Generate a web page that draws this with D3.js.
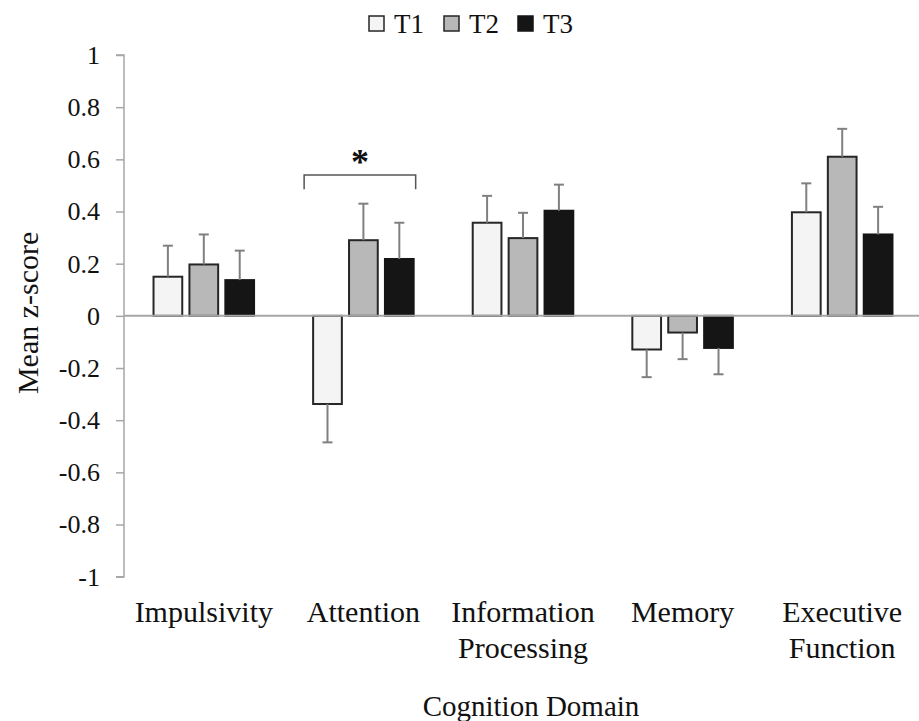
<!DOCTYPE html>
<html>
<head>
<meta charset="utf-8">
<script src="https://cdn.jsdelivr.net/npm/d3@7"></script>
<style>
  body { margin: 0; background: #fff; }
  svg text { font-family: "Liberation Serif", "Times New Roman", serif; fill: #111; }
</style>
</head>
<body>
<div id="chart"></div>
<script>
// Values
const categories = ['Impulsivity', 'Attention', 'Information Processing', 'Memory', 'Executive Function'];
const categoryLines = [['Impulsivity'], ['Attention'], ['Information', 'Processing'], ['Memory'], ['Executive', 'Function']];
const series = ['T1', 'T2', 'T3'];
const means = {
  T1: [0.15, -0.338, 0.357, -0.129, 0.397],
  T2: [0.197, 0.29, 0.298, -0.064, 0.61],
  T3: [0.137, 0.218, 0.403, -0.123, 0.312]
};
const errors = {
  T1: [0.119, 0.147, 0.103, 0.106, 0.111],
  T2: [0.115, 0.14, 0.097, 0.102, 0.107],
  T3: [0.113, 0.139, 0.1, 0.101, 0.106]
};
const yTicks = [1, 0.8, 0.6, 0.4, 0.2, 0, -0.2, -0.4, -0.6, -0.8, -1];
const fills = { T1: '#f4f4f4', T2: '#b8b8b8', T3: '#151515' };
const strokes = { T1: '#262626', T2: '#262626', T3: '#151515' };

const width = 919, height = 721;

const svg = d3.select('#chart').append('svg')
  .attr('width', width)
  .attr('height', height);

const x0 = d3.scaleBand()
  .domain(categories)
  .range([124, 922])
  .paddingInner(0.37)
  .paddingOuter(0.185);

const x1 = d3.scaleBand()
  .domain(series)
  .range([0, x0.bandwidth()])
  .paddingInner(0.2);

const y = d3.scaleLinear()
  .domain([-1, 1])
  .range([576.7, 55]);

// y axis
const yAxis = d3.axisLeft(y)
  .tickValues(yTicks)
  .tickSize(8)
  .tickFormat(d => String(+d.toFixed(1)));

const yG = svg.append('g')
  .attr('transform', 'translate(124,0)')
  .call(yAxis);

yG.attr('font-family', null);
yG.select('.domain').attr('stroke', '#a6a6a6').attr('stroke-width', 1.5).attr('d', `M-8,${y(1)}H0V${y(-1)}H-8`);
yG.selectAll('.tick line').attr('stroke', '#a6a6a6').attr('stroke-width', 1.5);
yG.selectAll('.tick text')
  .attr('x', -24)
  .style('font-size', '26px')
  .attr('fill', '#111');

// bars
const groups = svg.append('g')
  .selectAll('g')
  .data(categories)
  .join('g')
  .attr('transform', d => `translate(${x0(d)},0)`);

groups.selectAll('rect')
  .data((d, i) => series.map(s => ({ s, v: means[s][i] })))
  .join('rect')
  .attr('x', d => x1(d.s))
  .attr('width', x1.bandwidth())
  .attr('y', d => y(Math.max(0, d.v)))
  .attr('height', d => Math.abs(y(d.v) - y(0)))
  .attr('fill', d => fills[d.s])
  .attr('stroke', d => strokes[d.s])
  .attr('stroke-width', 2);

// error bars (one-sided, away from zero)
const errG = groups.selectAll('g.err')
  .data((d, i) => series.map(s => ({ s, v: means[s][i], e: errors[s][i] })))
  .join('g')
  .attr('class', 'err')
  .attr('stroke', '#808080')
  .attr('stroke-width', 2);

errG.append('line')
  .attr('x1', d => x1(d.s) + x1.bandwidth() / 2)
  .attr('x2', d => x1(d.s) + x1.bandwidth() / 2)
  .attr('y1', d => y(d.v))
  .attr('y2', d => y(d.v + Math.sign(d.v) * d.e));

errG.append('line')
  .attr('x1', d => x1(d.s) + x1.bandwidth() / 2 - 5)
  .attr('x2', d => x1(d.s) + x1.bandwidth() / 2 + 5)
  .attr('y1', d => y(d.v + Math.sign(d.v) * d.e))
  .attr('y2', d => y(d.v + Math.sign(d.v) * d.e));

// zero line
svg.append('line')
  .attr('x1', 124)
  .attr('x2', width)
  .attr('y1', y(0))
  .attr('y2', y(0))
  .attr('stroke', '#a6a6a6')
  .attr('stroke-width', 2);

// significance bracket over Attention
const bx1 = x0('Attention') - 9;
const bx2 = x0('Attention') + x0.bandwidth() + 2;
svg.append('path')
  .attr('d', `M${bx1},${y(0.485)}V${y(0.54)}H${bx2}V${y(0.485)}`)
  .attr('fill', 'none')
  .attr('stroke', '#555')
  .attr('stroke-width', 1.5);

svg.append('text')
  .attr('x', (bx1 + bx2) / 2)
  .attr('y', y(0.54) - 1)
  .attr('text-anchor', 'middle')
  .style('font-size', '36px')
  .style('font-weight', 'bold')
  .text('*');

// category labels
svg.append('g')
  .selectAll('text')
  .data(categories)
  .join('text')
  .attr('x', d => x0(d) + x0.bandwidth() / 2)
  .attr('y', 622)
  .attr('text-anchor', 'middle')
  .style('font-size', '30px')
  .each(function (d, i) {
    d3.select(this).selectAll('tspan')
      .data(categoryLines[i])
      .join('tspan')
      .attr('x', x0(d) + x0.bandwidth() / 2)
      .attr('dy', (t, j) => j === 0 ? 0 : 36)
      .text(t => t);
  });

// axis titles
svg.append('text')
  .attr('x', 531)
  .attr('y', 716)
  .attr('text-anchor', 'middle')
  .style('font-size', '29px')
  .text('Cognition Domain');

svg.append('text')
  .attr('transform', `translate(38,${y(0) - 3}) rotate(-90)`)
  .attr('text-anchor', 'middle')
  .style('font-size', '30px')
  .text('Mean z-score');

// legend
const legendX = [369, 444, 518];
const legend = svg.append('g')
  .selectAll('g')
  .data(series)
  .join('g')
  .attr('transform', (d, i) => `translate(${legendX[i]},16)`);

legend.append('rect')
  .attr('width', 15)
  .attr('height', 15)
  .attr('fill', d => fills[d])
  .attr('stroke', d => strokes[d])
  .attr('stroke-width', 1.5);

legend.append('text')
  .attr('x', 25)
  .attr('y', 17)
  .style('font-size', '27px')
  .text(d => d);
</script>
</body>
</html>
